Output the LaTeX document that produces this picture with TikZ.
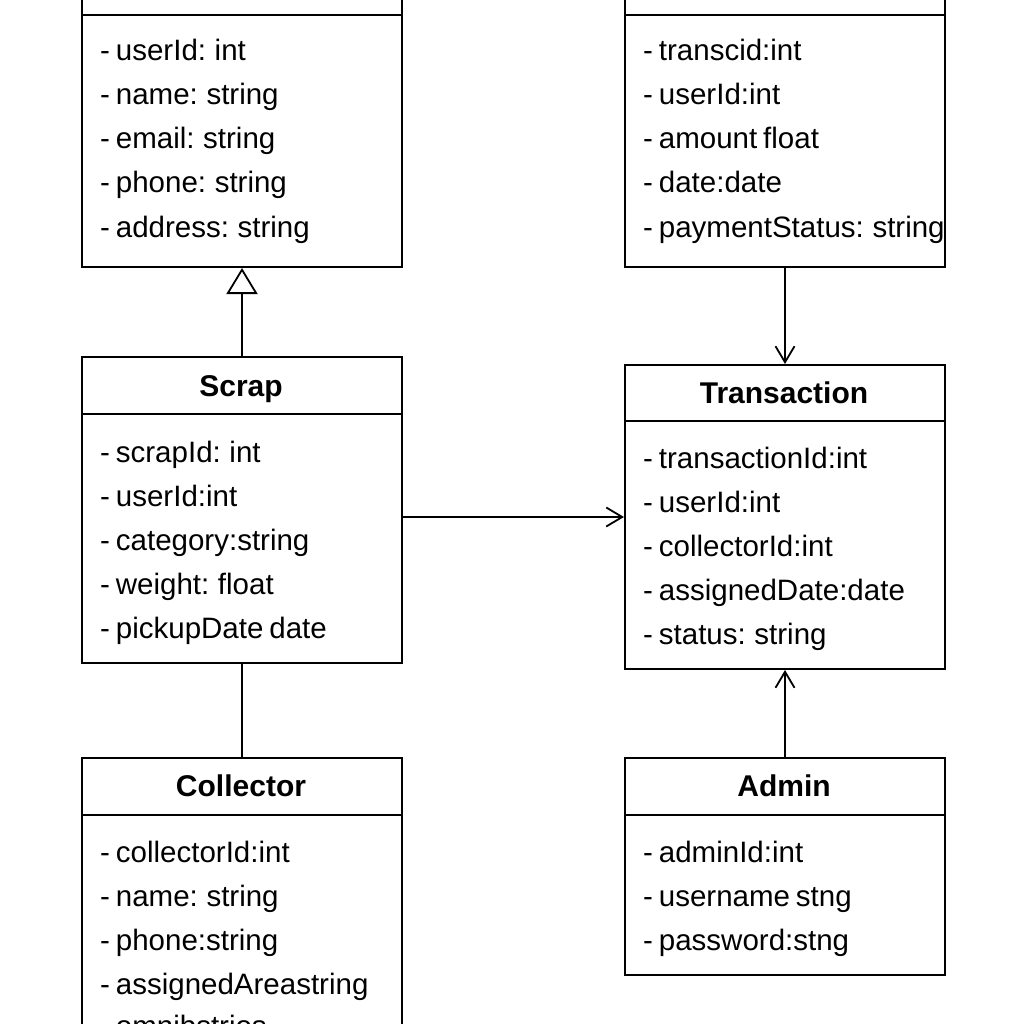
\documentclass[tikz,border=0pt]{standalone}
\usepackage{fontspec}
\setmainfont{Liberation Sans}
\newfontfamily\attrfam[WordSpace=0.72]{Liberation Sans}
\usetikzlibrary{arrows.meta}
\begin{document}
\begin{tikzpicture}[x=1pt,y=-1pt,
  classbox/.style={draw, line width=2pt, minimum width=320pt, anchor=north west, inner sep=0pt, fill=white},
  divider/.style={line width=2pt},
  attr/.style={anchor=base west, inner sep=0pt, font=\attrfam\fontsize{29.5}{30}\selectfont},
  title/.style={anchor=base, inner sep=0pt, font=\fontsize{30}{32}\selectfont\bfseries},
  conn/.style={line width=2pt},
  assoc/.style={conn, -{Straight Barb[length=16pt,width=19pt,line width=1.8pt]}},
  inh/.style={conn, -{Triangle[open, length=26pt, width=31pt, line width=1.8pt, fill=white]}}
]
\useasboundingbox (0,0) rectangle (1024,1024);
\fill[white] (0,0) rectangle (1024,1024);
\clip (0,0) rectangle (1024,1024);

% User (top left, title cut off)
\node[classbox, minimum height=309pt] (user) at (81,-43) {};
\draw[divider] (81,15) -- (401,15);
\node[attr] (u1) at (100,61)  {- userId: int};
\node[attr] (u2) at (100,105) {- name: string};
\node[attr] (u3) at (100,149) {- email: string};
\node[attr] (u4) at (100,193) {- phone: string};
\node[attr] (u5) at (100,237) {- address: string};

% Payment (top right, title cut off)
\node[classbox, minimum height=309pt] (pay) at (624,-43) {};
\draw[divider] (624,15) -- (944,15);
\node[attr] (p1) at (643,61)  {- transcid:int};
\node[attr] (p2) at (643,105) {- userId:int};
\node[attr] (p3) at (643,149) {- amount float};
\node[attr] (p4) at (643,193) {- date:date};
\node[attr] (p5) at (643,237) {- paymentStatus: string};

% Scrap
\node[classbox, minimum height=306pt] (scrap) at (81,356) {};
\draw[divider] (81,414) -- (401,414);
\node[title] (st) at (241,396) {Scrap};
\node[attr] (s1) at (100,462) {- scrapId: int};
\node[attr] (s2) at (100,506) {- userId:int};
\node[attr] (s3) at (100,550) {- category:string};
\node[attr] (s4) at (100,594) {- weight: float};
\node[attr] (s5) at (100,638) {- pickupDate date};

% Transaction
\node[classbox, minimum height=304pt] (trans) at (624,364) {};
\draw[divider] (624,421) -- (944,421);
\node[title] (tt) at (784,403) {Transaction};
\node[attr] (t1) at (643,468) {- transactionId:int};
\node[attr] (t2) at (643,512) {- userId:int};
\node[attr] (t3) at (643,556) {- collectorId:int};
\node[attr] (t4) at (643,600) {- assignedDate:date};
\node[attr] (t5) at (643,644) {- status: string};

% Collector (bottom cut off)
\node[classbox, minimum height=320pt] (coll) at (81,757) {};
\draw[divider] (81,815) -- (401,815);
\node[title] (ct) at (241,796) {Collector};
\node[attr] (c1) at (100,862) {- collectorId:int};
\node[attr] (c2) at (100,906) {- name: string};
\node[attr] (c3) at (100,950) {- phone:string};
\node[attr] (c4) at (100,994) {- assignedAreastring};
\node[attr] (c5) at (100,1036) {- omnibstrios};

% Admin
\node[classbox, minimum height=217pt] (admin) at (624,757) {};
\draw[divider] (624,815) -- (944,815);
\node[title] (at) at (784,796) {Admin};
\node[attr] (a1) at (643,862) {- adminId:int};
\node[attr] (a2) at (643,906) {- username stng};
\node[attr] (a3) at (643,950) {- password:stng};

% Connectors
\draw[inh] (scrap.north) -- (user.south);
\draw[assoc] (pay.south) -- (trans.north);
\draw[assoc] (scrap.east |- trans.west) -- (trans.west);
\draw[conn] (scrap.south) -- (coll.north);
\draw[assoc] (admin.north) -- (trans.south);
\end{tikzpicture}
\end{document}
